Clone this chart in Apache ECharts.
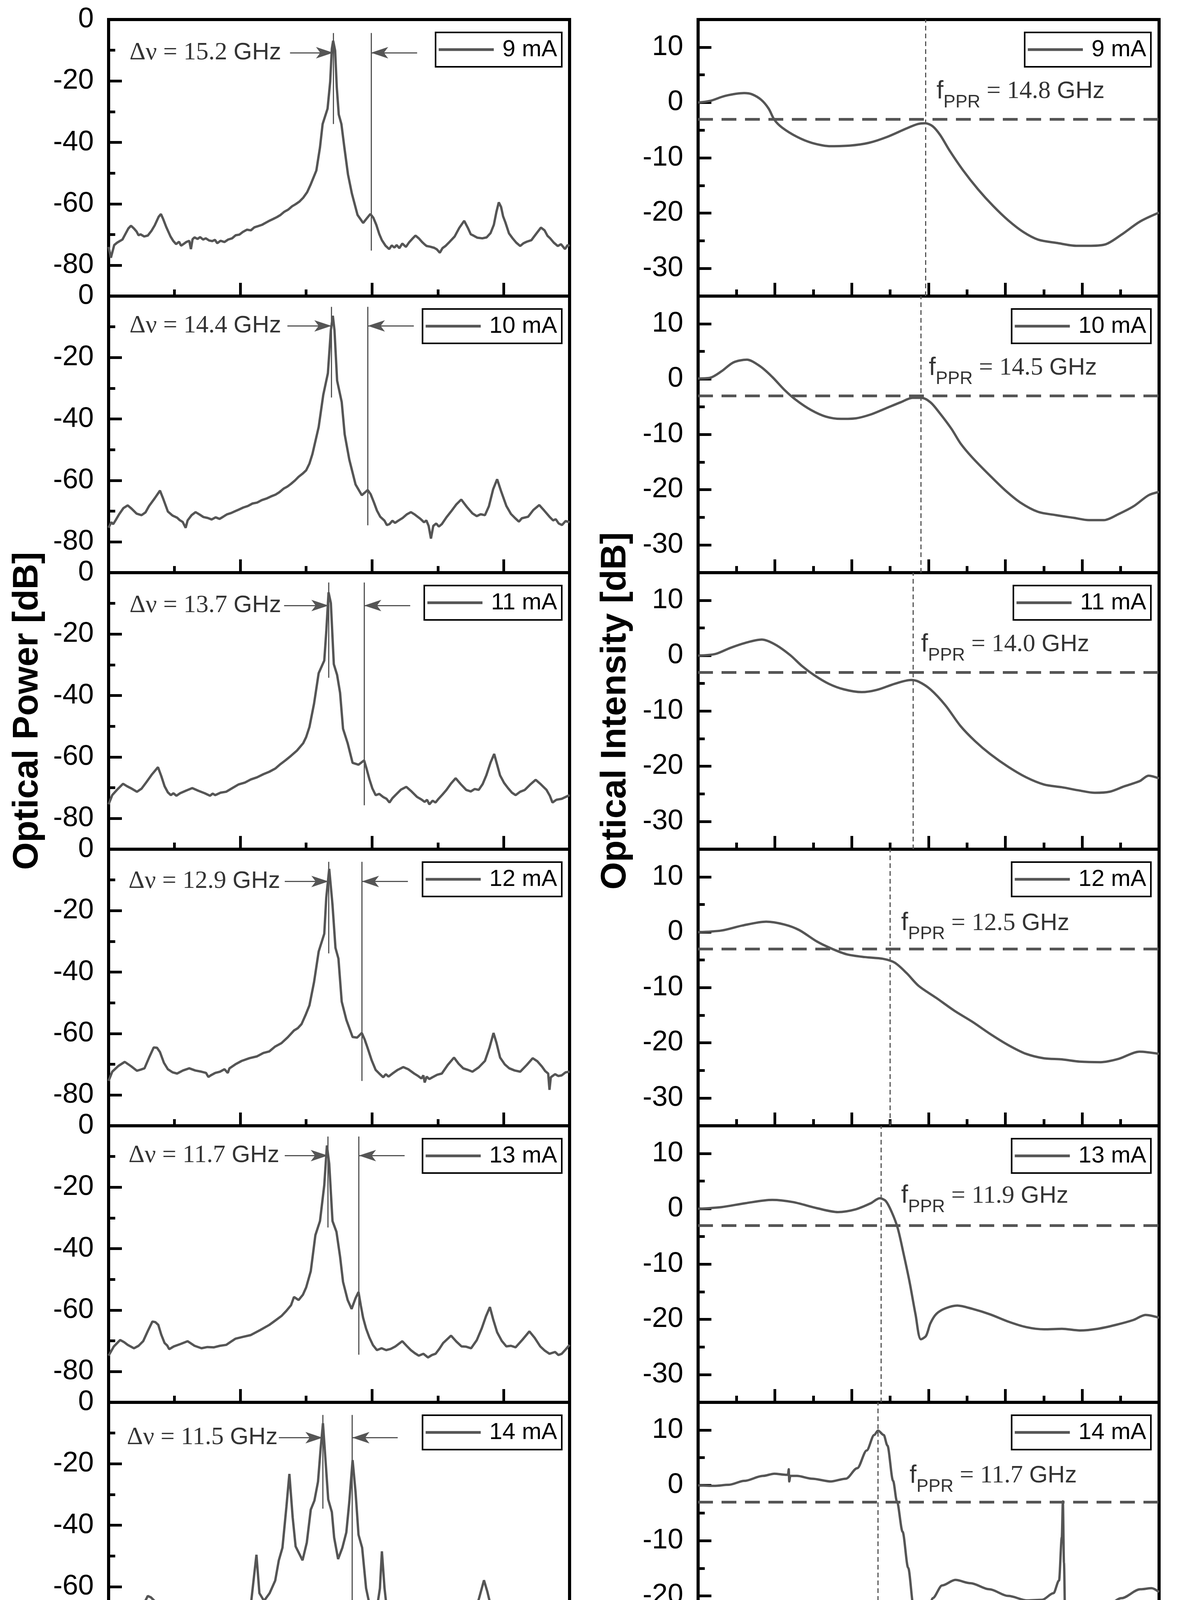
<!DOCTYPE html>
<html>
<head>
<meta charset="utf-8">
<title>Optical spectra and modulation response</title>
<script src="https://cdn.jsdelivr.net/npm/echarts@6/dist/echarts.min.js"></script>
<style>
  html, body { margin: 0; padding: 0; background: #fff; }
  #chart { width: 3018px; height: 4572px; }
</style>
</head>
<body>
<div id="chart"></div>
<script>
// ---- optical spectra, [wavelength nm, dB] ----
const spec9 = [[1551.200,-74.0],[1551.207,-77.5],[1551.217,-73.4],[1551.226,-72.6],[1551.234,-72.1],[1551.242,-71.6],[1551.250,-70.0],[1551.260,-68.0],[1551.268,-67.1],[1551.277,-68.0],[1551.285,-69.0],[1551.291,-70.2],[1551.297,-69.9],[1551.308,-70.6],[1551.319,-70.3],[1551.330,-68.8],[1551.340,-67.0],[1551.352,-64.2],[1551.359,-63.3],[1551.366,-65.0],[1551.375,-67.5],[1551.388,-70.6],[1551.396,-72.0],[1551.405,-73.1],[1551.414,-72.3],[1551.420,-73.6],[1551.427,-73.1],[1551.436,-72.4],[1551.445,-72.0],[1551.450,-74.7],[1551.455,-71.5],[1551.461,-70.9],[1551.470,-71.4],[1551.478,-70.8],[1551.487,-71.6],[1551.495,-71.2],[1551.505,-71.9],[1551.515,-72.1],[1551.523,-71.7],[1551.530,-72.8],[1551.540,-72.0],[1551.552,-72.4],[1551.563,-71.6],[1551.575,-71.2],[1551.586,-70.2],[1551.597,-70.0],[1551.608,-69.1],[1551.620,-68.4],[1551.632,-68.6],[1551.643,-67.6],[1551.655,-67.2],[1551.666,-66.8],[1551.678,-66.1],[1551.690,-65.4],[1551.700,-64.9],[1551.711,-64.3],[1551.722,-63.6],[1551.733,-62.6],[1551.745,-61.9],[1551.757,-60.8],[1551.768,-60.1],[1551.780,-59.2],[1551.791,-58.0],[1551.803,-56.2],[1551.814,-53.6],[1551.831,-49.1],[1551.842,-41.6],[1551.850,-34.0],[1551.865,-29.0],[1551.873,-20.2],[1551.878,-9.5],[1551.882,-6.9],[1551.888,-10.1],[1551.893,-22.1],[1551.899,-30.9],[1551.907,-34.0],[1551.916,-41.6],[1551.927,-50.4],[1551.939,-56.7],[1551.956,-63.6],[1551.973,-66.2],[1551.985,-64.6],[1551.995,-63.3],[1552.004,-64.5],[1552.013,-66.8],[1552.022,-69.8],[1552.030,-71.8],[1552.041,-73.6],[1552.052,-74.7],[1552.060,-73.5],[1552.068,-74.2],[1552.075,-73.4],[1552.083,-74.4],[1552.092,-72.9],[1552.103,-74.0],[1552.112,-72.6],[1552.122,-71.4],[1552.132,-70.3],[1552.142,-71.2],[1552.152,-72.4],[1552.160,-73.2],[1552.166,-73.7],[1552.176,-73.9],[1552.189,-74.3],[1552.197,-74.8],[1552.206,-75.9],[1552.214,-74.4],[1552.223,-73.7],[1552.236,-72.3],[1552.251,-70.6],[1552.265,-67.8],[1552.280,-65.5],[1552.292,-68.0],[1552.300,-69.9],[1552.308,-70.3],[1552.320,-71.0],[1552.335,-71.2],[1552.348,-70.9],[1552.360,-69.5],[1552.370,-66.8],[1552.378,-62.5],[1552.385,-59.5],[1552.392,-61.0],[1552.398,-64.0],[1552.405,-66.0],[1552.416,-69.6],[1552.427,-71.2],[1552.438,-72.6],[1552.450,-73.7],[1552.460,-72.8],[1552.470,-72.3],[1552.484,-71.8],[1552.498,-69.8],[1552.513,-67.7],[1552.524,-68.6],[1552.533,-70.4],[1552.541,-71.2],[1552.552,-72.6],[1552.564,-73.7],[1552.574,-73.1],[1552.586,-74.7],[1552.594,-73.4],[1552.600,-73.7]];
const spec10 = [[1551.200,-75.4],[1551.208,-73.6],[1551.214,-74.2],[1551.221,-73.0],[1551.232,-71.0],[1551.245,-69.0],[1551.258,-68.1],[1551.270,-69.2],[1551.285,-70.8],[1551.300,-71.3],[1551.312,-70.4],[1551.323,-68.3],[1551.340,-65.8],[1551.356,-63.3],[1551.366,-66.0],[1551.380,-70.1],[1551.394,-71.4],[1551.408,-72.1],[1551.416,-72.9],[1551.425,-73.5],[1551.434,-75.4],[1551.440,-73.0],[1551.452,-71.3],[1551.464,-70.3],[1551.475,-71.0],[1551.488,-71.9],[1551.501,-72.2],[1551.513,-72.7],[1551.525,-72.0],[1551.537,-72.5],[1551.548,-71.8],[1551.560,-71.0],[1551.572,-70.6],[1551.584,-70.0],[1551.595,-69.5],[1551.609,-68.8],[1551.623,-68.3],[1551.637,-67.5],[1551.651,-67.2],[1551.665,-66.4],[1551.679,-65.9],[1551.693,-65.2],[1551.707,-64.6],[1551.719,-63.8],[1551.731,-62.7],[1551.743,-62.0],[1551.754,-61.1],[1551.766,-60.0],[1551.777,-58.8],[1551.789,-57.8],[1551.800,-56.7],[1551.810,-54.5],[1551.819,-51.4],[1551.838,-42.6],[1551.852,-32.1],[1551.866,-25.1],[1551.875,-11.1],[1551.881,-6.4],[1551.886,-11.1],[1551.894,-27.5],[1551.908,-34.5],[1551.917,-45.0],[1551.931,-53.2],[1551.950,-61.3],[1551.969,-64.8],[1551.987,-63.1],[1551.996,-64.5],[1552.006,-67.2],[1552.015,-69.8],[1552.025,-71.8],[1552.038,-73.1],[1552.045,-74.5],[1552.053,-74.2],[1552.062,-73.1],[1552.070,-73.8],[1552.081,-73.0],[1552.093,-72.2],[1552.106,-71.0],[1552.118,-70.3],[1552.130,-71.1],[1552.146,-72.4],[1552.158,-73.6],[1552.165,-73.0],[1552.172,-74.8],[1552.179,-78.9],[1552.186,-74.8],[1552.195,-74.0],[1552.203,-75.0],[1552.212,-74.2],[1552.226,-72.0],[1552.240,-70.1],[1552.256,-67.8],[1552.271,-66.2],[1552.288,-68.6],[1552.305,-70.7],[1552.318,-71.6],[1552.330,-71.0],[1552.343,-71.3],[1552.355,-68.4],[1552.368,-62.8],[1552.380,-59.6],[1552.392,-63.5],[1552.408,-68.3],[1552.422,-70.9],[1552.436,-72.4],[1552.446,-73.4],[1552.455,-72.3],[1552.474,-71.8],[1552.490,-69.6],[1552.508,-68.0],[1552.523,-69.8],[1552.539,-71.8],[1552.550,-73.0],[1552.558,-72.6],[1552.567,-74.0],[1552.577,-74.5],[1552.588,-73.2],[1552.600,-73.6]];
const spec11 = [[1551.200,-75.4],[1551.211,-72.4],[1551.226,-70.6],[1551.244,-68.7],[1551.256,-69.5],[1551.267,-70.1],[1551.286,-71.3],[1551.300,-70.3],[1551.314,-68.3],[1551.332,-65.6],[1551.350,-63.3],[1551.360,-66.2],[1551.370,-69.5],[1551.380,-71.5],[1551.389,-72.4],[1551.397,-71.8],[1551.406,-72.6],[1551.417,-71.8],[1551.436,-70.9],[1551.454,-70.1],[1551.473,-71.0],[1551.492,-71.8],[1551.508,-72.6],[1551.516,-71.9],[1551.524,-72.4],[1551.540,-71.6],[1551.557,-71.3],[1551.576,-70.1],[1551.595,-68.9],[1551.614,-68.3],[1551.632,-67.3],[1551.651,-66.6],[1551.670,-65.6],[1551.688,-64.8],[1551.707,-63.7],[1551.722,-62.3],[1551.738,-61.0],[1551.754,-59.6],[1551.772,-57.9],[1551.791,-55.5],[1551.800,-53.5],[1551.810,-50.2],[1551.824,-42.6],[1551.838,-32.7],[1551.855,-28.6],[1551.861,-19.3],[1551.868,-6.4],[1551.875,-9.9],[1551.884,-29.8],[1551.894,-33.3],[1551.903,-39.1],[1551.912,-50.8],[1551.926,-55.5],[1551.941,-61.9],[1551.959,-62.5],[1551.976,-61.1],[1551.984,-64.0],[1551.992,-67.2],[1552.001,-70.2],[1552.011,-72.4],[1552.022,-72.0],[1552.034,-73.0],[1552.044,-73.6],[1552.053,-74.8],[1552.062,-73.4],[1552.071,-72.4],[1552.088,-70.6],[1552.104,-69.7],[1552.120,-71.2],[1552.137,-73.0],[1552.150,-73.8],[1552.160,-74.6],[1552.167,-73.9],[1552.174,-75.4],[1552.184,-74.2],[1552.193,-74.8],[1552.202,-73.6],[1552.214,-72.2],[1552.226,-70.7],[1552.240,-68.6],[1552.254,-66.9],[1552.270,-68.9],[1552.286,-70.7],[1552.300,-71.2],[1552.312,-70.4],[1552.324,-70.7],[1552.336,-68.8],[1552.347,-66.0],[1552.360,-61.8],[1552.371,-59.0],[1552.380,-62.5],[1552.389,-66.0],[1552.401,-68.4],[1552.413,-70.1],[1552.425,-71.6],[1552.436,-72.4],[1552.450,-71.3],[1552.464,-70.7],[1552.480,-69.0],[1552.497,-67.4],[1552.513,-68.9],[1552.530,-70.7],[1552.540,-72.6],[1552.548,-74.8],[1552.560,-73.9],[1552.576,-73.6],[1552.588,-73.0],[1552.600,-72.4]];
const spec12 = [[1551.200,-75.4],[1551.211,-72.4],[1551.230,-70.5],[1551.249,-69.2],[1551.268,-70.6],[1551.286,-72.1],[1551.298,-71.7],[1551.309,-71.3],[1551.323,-67.8],[1551.337,-64.5],[1551.347,-64.6],[1551.356,-66.0],[1551.368,-69.5],[1551.380,-71.6],[1551.394,-72.6],[1551.408,-73.0],[1551.426,-72.0],[1551.445,-71.3],[1551.463,-72.0],[1551.482,-72.4],[1551.496,-72.8],[1551.503,-74.1],[1551.510,-73.6],[1551.524,-72.8],[1551.538,-72.4],[1551.552,-71.6],[1551.562,-72.8],[1551.567,-71.3],[1551.585,-70.0],[1551.604,-68.9],[1551.628,-68.0],[1551.651,-67.4],[1551.670,-66.3],[1551.688,-65.8],[1551.706,-64.2],[1551.725,-63.1],[1551.744,-61.2],[1551.763,-59.0],[1551.775,-58.2],[1551.786,-56.9],[1551.798,-54.0],[1551.810,-50.8],[1551.824,-43.2],[1551.838,-33.3],[1551.855,-27.5],[1551.861,-15.8],[1551.870,-6.4],[1551.880,-18.1],[1551.889,-32.1],[1551.898,-35.6],[1551.908,-49.6],[1551.922,-55.5],[1551.941,-61.1],[1551.955,-61.3],[1551.969,-59.8],[1551.978,-62.0],[1551.987,-64.8],[1551.999,-68.7],[1552.011,-71.8],[1552.022,-73.0],[1552.034,-74.2],[1552.042,-73.2],[1552.050,-74.0],[1552.062,-73.0],[1552.078,-71.8],[1552.095,-70.9],[1552.110,-71.6],[1552.128,-73.0],[1552.140,-73.8],[1552.150,-74.6],[1552.156,-73.6],[1552.160,-75.9],[1552.166,-74.0],[1552.174,-74.8],[1552.184,-74.2],[1552.198,-73.4],[1552.212,-73.0],[1552.230,-70.2],[1552.249,-67.8],[1552.263,-69.8],[1552.277,-71.3],[1552.291,-71.8],[1552.305,-72.4],[1552.324,-71.0],[1552.343,-68.9],[1552.357,-64.5],[1552.369,-59.8],[1552.378,-63.0],[1552.389,-67.8],[1552.403,-70.0],[1552.417,-71.3],[1552.433,-72.0],[1552.450,-72.4],[1552.470,-70.2],[1552.488,-68.0],[1552.502,-69.0],[1552.516,-70.7],[1552.526,-72.2],[1552.535,-73.0],[1552.539,-78.3],[1552.543,-74.2],[1552.556,-73.2],[1552.566,-73.8],[1552.576,-73.6],[1552.588,-72.6],[1552.600,-72.4]];
const spec13 = [[1551.200,-74.8],[1551.216,-71.8],[1551.235,-69.7],[1551.247,-70.4],[1551.258,-71.3],[1551.277,-72.4],[1551.291,-71.6],[1551.305,-70.1],[1551.319,-66.8],[1551.333,-63.7],[1551.342,-63.9],[1551.351,-64.8],[1551.360,-68.0],[1551.370,-70.7],[1551.378,-71.5],[1551.384,-72.7],[1551.398,-71.8],[1551.419,-71.0],[1551.440,-70.1],[1551.461,-71.6],[1551.482,-72.4],[1551.500,-72.0],[1551.520,-72.1],[1551.538,-71.6],[1551.557,-71.3],[1551.571,-70.3],[1551.585,-69.3],[1551.608,-68.7],[1551.632,-68.1],[1551.660,-66.5],[1551.688,-64.8],[1551.706,-63.4],[1551.725,-61.9],[1551.740,-60.2],[1551.754,-58.4],[1551.763,-55.7],[1551.777,-56.7],[1551.790,-55.0],[1551.800,-52.6],[1551.814,-47.3],[1551.828,-35.6],[1551.842,-31.0],[1551.855,-19.3],[1551.863,-6.4],[1551.870,-12.3],[1551.880,-31.0],[1551.892,-34.5],[1551.903,-42.6],[1551.912,-50.8],[1551.926,-56.7],[1551.938,-59.6],[1551.950,-56.1],[1551.959,-54.1],[1551.966,-58.5],[1551.973,-62.5],[1551.982,-66.0],[1551.992,-68.9],[1552.003,-71.4],[1552.015,-73.0],[1552.029,-72.4],[1552.043,-73.0],[1552.057,-72.6],[1552.071,-71.8],[1552.092,-70.1],[1552.105,-71.6],[1552.118,-73.0],[1552.130,-74.0],[1552.142,-74.8],[1552.156,-74.2],[1552.170,-75.4],[1552.182,-74.6],[1552.193,-74.2],[1552.205,-72.5],[1552.216,-70.7],[1552.240,-68.3],[1552.256,-70.2],[1552.272,-71.8],[1552.286,-71.9],[1552.301,-72.4],[1552.318,-69.8],[1552.333,-66.0],[1552.346,-62.0],[1552.358,-59.0],[1552.368,-63.0],[1552.380,-67.2],[1552.394,-70.0],[1552.408,-71.8],[1552.422,-71.6],[1552.436,-72.1],[1552.457,-69.6],[1552.478,-66.9],[1552.494,-69.0],[1552.511,-71.8],[1552.525,-73.2],[1552.539,-74.2],[1552.556,-73.6],[1552.566,-74.6],[1552.576,-74.2],[1552.588,-72.8],[1552.600,-71.3]];
const spec14 = [[1551.200,-72.1],[1551.214,-69.8],[1551.228,-68.3],[1551.245,-70.2],[1551.256,-71.0],[1551.263,-71.7],[1551.270,-74.1],[1551.280,-71.2],[1551.291,-69.2],[1551.305,-66.0],[1551.319,-63.0],[1551.329,-63.5],[1551.339,-64.6],[1551.349,-68.0],[1551.359,-70.4],[1551.370,-71.2],[1551.382,-71.7],[1551.402,-70.8],[1551.422,-69.2],[1551.434,-70.2],[1551.444,-71.5],[1551.455,-72.4],[1551.467,-73.7],[1551.476,-72.6],[1551.487,-72.9],[1551.497,-72.2],[1551.507,-71.7],[1551.524,-71.0],[1551.541,-70.4],[1551.549,-67.5],[1551.558,-69.2],[1551.570,-69.0],[1551.584,-68.5],[1551.598,-67.9],[1551.615,-67.2],[1551.632,-65.9],[1551.641,-57.2],[1551.649,-49.6],[1551.658,-62.1],[1551.672,-64.6],[1551.689,-62.1],[1551.706,-58.0],[1551.717,-51.4],[1551.728,-47.3],[1551.740,-34.0],[1551.749,-23.3],[1551.759,-37.4],[1551.768,-46.9],[1551.789,-51.4],[1551.802,-45.6],[1551.814,-34.9],[1551.825,-32.0],[1551.836,-25.8],[1551.844,-15.0],[1551.851,-6.8],[1551.859,-19.2],[1551.867,-31.6],[1551.878,-35.7],[1551.885,-44.0],[1551.897,-51.0],[1551.910,-47.3],[1551.922,-42.3],[1551.931,-32.4],[1551.941,-18.8],[1551.950,-29.1],[1551.959,-43.1],[1551.970,-47.3],[1551.982,-60.5],[1551.995,-67.1],[1552.013,-68.3],[1552.024,-60.5],[1552.030,-48.5],[1552.038,-60.5],[1552.047,-69.2],[1552.061,-70.6],[1552.075,-70.0],[1552.087,-71.4],[1552.098,-72.1],[1552.110,-71.2],[1552.120,-71.7],[1552.126,-73.6],[1552.132,-75.0],[1552.140,-74.4],[1552.149,-76.2],[1552.163,-74.6],[1552.177,-73.7],[1552.192,-71.3],[1552.206,-69.2],[1552.220,-67.5],[1552.232,-68.8],[1552.245,-70.0],[1552.262,-71.6],[1552.280,-72.5],[1552.294,-71.6],[1552.308,-70.0],[1552.325,-63.8],[1552.340,-57.9],[1552.350,-61.5],[1552.359,-65.5],[1552.374,-68.9],[1552.388,-70.8],[1552.402,-71.5],[1552.416,-71.7],[1552.436,-69.0],[1552.456,-66.7],[1552.470,-67.6],[1552.484,-69.2],[1552.496,-70.6],[1552.507,-72.1],[1552.518,-73.6],[1552.530,-75.8],[1552.540,-74.0],[1552.550,-73.3],[1552.558,-74.6],[1552.564,-75.3],[1552.575,-72.6],[1552.586,-70.8],[1552.600,-68.3]];

// ---- modulation response, [frequency GHz, dB] ----
const resp9 = [[0,0],[0.79,0.3],[1.77,1.2],[3.0,1.7],[3.49,1.5],[4.1,0.5],[4.59,-1.1],[4.96,-3.1],[5.45,-4.5],[6.43,-6.2],[7.41,-7.3],[8.64,-7.9],[9.87,-7.8],[11.1,-7.3],[12.32,-6.2],[13.55,-4.7],[14.29,-3.9],[14.78,-3.75],[15.27,-4.3],[15.76,-5.9],[16.37,-8.7],[17.23,-12.2],[18.22,-15.7],[19.2,-18.7],[20.18,-21.3],[21.16,-23.4],[22.14,-24.8],[23.37,-25.4],[24.6,-25.9],[25.58,-25.9],[26.56,-25.6],[27.55,-23.9],[28.77,-21.5],[30,-19.9]];
const resp10 = [[0,0.1],[0.74,0.2],[1.52,1.4],[2.29,3.0],[3.17,3.5],[4.04,2.3],[4.82,0.4],[5.6,-1.9],[6.38,-3.8],[7.35,-5.6],[8.32,-6.8],[9.29,-7.2],[10.26,-7.1],[11.24,-6.4],[12.21,-5.3],[13.18,-4.2],[13.96,-3.4],[14.54,-3.4],[15.12,-4.2],[15.71,-6.1],[16.49,-9.0],[17.07,-11.6],[17.85,-14.2],[19.01,-17.5],[19.98,-20.1],[20.96,-22.3],[22.12,-24.0],[23.29,-24.6],[24.46,-25.1],[25.43,-25.5],[26.4,-25.5],[27.37,-24.4],[28.34,-23.0],[29.32,-21.0],[30,-20.4]];
const resp11 = [[0,0],[1.13,0.3],[2.1,1.4],[3.07,2.3],[4.14,2.9],[5.02,2.0],[5.99,0.1],[6.77,-1.9],[7.54,-3.5],[8.51,-5.1],[9.49,-6.1],[10.65,-6.6],[11.63,-6.2],[12.79,-5.1],[13.86,-4.4],[14.35,-4.7],[15.12,-6.1],[16.1,-9.0],[17.07,-12.7],[18.04,-15.5],[19.01,-17.8],[20.18,-20.1],[21.35,-22.0],[22.51,-23.3],[23.68,-23.8],[24.84,-24.4],[25.82,-24.8],[26.79,-24.6],[27.76,-23.6],[28.73,-22.7],[29.32,-21.7],[30,-22.2]];
const resp12 = [[0,0],[1.52,0.3],[2.88,1.2],[4.43,1.9],[5.6,1.4],[6.57,0.4],[7.74,-1.7],[8.71,-3.0],[9.68,-4.0],[10.85,-4.5],[12.01,-4.8],[12.79,-5.5],[13.57,-7.4],[14.35,-9.7],[15.51,-11.9],[16.68,-14.2],[17.85,-16.2],[19.01,-18.4],[20.18,-20.4],[21.35,-22.0],[22.51,-22.8],[23.68,-23.0],[24.84,-23.4],[26.2,-23.5],[27.37,-22.9],[28.73,-21.6],[30,-22.0]];
const resp13 = [[0,0],[1.52,0.3],[3.07,1.0],[4.82,1.6],[6.18,1.2],[7.74,0.1],[9.1,-0.6],[10.26,-0.1],[11.24,1.0],[11.82,1.9],[12.21,1.4],[12.6,-0.6],[12.99,-3.5],[13.37,-8.1],[13.76,-13.2],[14.15,-19.1],[14.5,-23.6],[14.83,-23.0],[15.12,-20.7],[15.51,-19.0],[16.1,-18.0],[16.87,-17.5],[17.85,-18.1],[19.01,-19.1],[20.18,-20.4],[21.35,-21.4],[22.51,-21.8],[23.68,-21.7],[24.84,-22.0],[26.01,-21.7],[27.18,-21.0],[28.34,-20.1],[29.12,-19.2],[30,-19.7]];
const resp14 = [[0,0],[1.03,-0.1],[2.01,0.1],[3.0,0.8],[4.22,1.7],[4.96,2.1],[5.7,1.9],[5.85,1.9],[5.9,2.9],[5.93,0.7],[6.0,1.7],[6.43,1.7],[7.41,1.2],[8.64,0.7],[9.62,1.2],[10.36,3.1],[10.97,6.3],[11.46,9.1],[11.71,9.9],[12.08,9.1],[12.32,7.2],[12.69,0.8],[12.94,-2.9],[13.31,-8.4],[13.67,-14.9],[14.04,-22.3],[14.29,-29.2],[14.46,-33.6],[14.66,-28.3],[14.9,-24.1],[15.27,-20.4],[15.88,-18.1],[16.74,-17.1],[17.73,-17.7],[18.95,-18.8],[20.18,-20.0],[21.41,-20.8],[22.39,-20.7],[23.13,-19.5],[23.49,-17.2],[23.67,-9.4],[23.74,-2.9],[23.81,-14.0],[23.91,-27.8],[24.11,-25.8],[24.6,-23.9],[25.58,-23.0],[26.56,-21.8],[27.55,-20.4],[28.77,-18.8],[29.51,-18.6],[30,-19.3]];

const currents = ['9 mA', '10 mA', '11 mA', '12 mA', '13 mA', '14 mA'];
const spectra = [spec9, spec10, spec11, spec12, spec13, spec14];
const responses = [resp9, resp10, resp11, resp12, resp13, resp14];

// mode spacing markers (left column)
const dnuLabels = ['15.2', '14.4', '13.7', '12.9', '11.7', '11.5'];
const mainMode = [1551.882, 1551.877, 1551.868, 1551.868, 1551.866, 1551.850];
const mainModeEnd = [-34.0, -33.0, -34.2, -33.9, -33.1, -34.6];
const sideMode = [1551.997, 1551.987, 1551.976, 1551.969, 1551.960, 1551.940];
const sideModeEnd = [-75.2, -74.6, -75.7, -75.4, -74.5, -75.8];
const markerTop = [-4.4, -3.5, -3.2, -4.1, -3.5, -4.1];
const arrowLevel = [-10.8, -9.7, -10.7, -10.5, -9.7, -11.5];
const arrowTailL = [1551.751, 1551.743, 1551.733, 1551.735, 1551.735, 1551.717];
const arrowTailR = [1552.137, 1552.127, 1552.116, 1552.109, 1552.099, 1552.078];
const dnuTextX = [1551.263, 1551.263, 1551.263, 1551.260, 1551.260, 1551.255];

// photon-photon resonance markers (right column)
const fpprLabels = ['14.8', '14.5', '14.0', '12.5', '11.9', '11.7'];
const fppr = [14.8, 14.5, 14.0, 12.5, 11.9, 11.7];
const fpprTextX = [15.5, 15.0, 14.5, 13.2, 13.2, 13.75];
const fpprTextY = [2.0, 2.0, 2.0, 1.6, 2.3, 1.7];
const cutoffLevel = -3;

// axis ticks
const wlMajor = [1551.2, 1551.6, 1552.0, 1552.4];
const wlMinor = [1551.4, 1551.8, 1552.2];
const powMajor = [0, -20, -40, -60, -80];
const powMinor = [-10, -30, -50, -70];
const fMajor = [0, 5, 10, 15, 20, 25, 30];
const fMinor = [2.5, 7.5, 12.5, 17.5, 22.5, 27.5];
const intMajor = [10, 0, -10, -20, -30];
const intMinor = [5, -5, -15, -25];

const SANS = '"Liberation Sans", Arial, sans-serif';
const SERIF = '"Liberation Serif", "Times New Roman", serif';
const INK = '#000';
const TRACE = '#555555';

const panelTop = 50, panelH = 708, panelW = 1180;
const colLeft = [278, 1787];
const legendRight = [1580, 72];

const grids = [], xAxes = [], yAxes = [], series = [], legends = [];

const titleStyle = { fontSize: 91, fontWeight: 'bold', color: INK, fontFamily: SANS };
const tickStyle = { color: INK, width: 7 };

for (let c = 0; c < 2; c++) {
    const isSpec = c === 0;
    for (let i = 0; i < 6; i++) {
        const g = grids.length;
        grids.push({
            left: colLeft[c], top: panelTop + i * panelH, width: panelW, height: panelH,
            show: true, borderColor: INK, borderWidth: 8, backgroundColor: 'transparent'
        });

        const last = i === 5;
        const xMin = isSpec ? 1551.2 : 0, xMax = isSpec ? 1552.6 : 30;
        const yMin = isSpec ? -90 : -35, yMax = isSpec ? 0 : 15;

        const xi = xAxes.length;
        xAxes.push({
            type: 'value', gridIndex: g, position: 'bottom', min: xMin, max: xMax,
            axisLine: { onZero: false, lineStyle: { color: INK, width: 8 } },
            axisTick: { inside: true, length: 34, lineStyle: tickStyle, customValues: isSpec ? wlMajor : fMajor },
            axisLabel: {
                show: last, customValues: isSpec ? wlMajor : fMajor, margin: 46,
                fontSize: 72, color: INK, fontFamily: SANS,
                formatter: v => isSpec ? v.toFixed(1) : String(v)
            },
            splitLine: { show: false },
            name: last ? (isSpec ? 'Wavelength [nm]' : 'Frequency [GHz]') : '',
            nameLocation: 'middle', nameGap: 180, nameTextStyle: titleStyle
        });
        xAxes.push({
            type: 'value', gridIndex: g, position: 'bottom', min: xMin, max: xMax,
            axisLine: { show: false, onZero: false },
            axisTick: { inside: true, length: 17, lineStyle: tickStyle, customValues: isSpec ? wlMinor : fMinor },
            axisLabel: { show: false }, splitLine: { show: false }
        });

        const yi = yAxes.length;
        yAxes.push({
            type: 'value', gridIndex: g, position: 'left', min: yMin, max: yMax,
            axisLine: { show: true, onZero: false, lineStyle: { color: INK, width: 8 } },
            axisTick: { inside: true, length: 34, lineStyle: tickStyle, customValues: isSpec ? powMajor : intMajor },
            axisLabel: {
                customValues: isSpec ? powMajor : intMajor, margin: 38,
                fontSize: 72, color: INK, fontFamily: SANS
            },
            splitLine: { show: false },
            name: i === 2 ? (isSpec ? 'Optical Power [dB]' : 'Optical Intensity [dB]') : '',
            nameLocation: 'middle', nameGap: isSpec ? 162 : 166, nameTextStyle: titleStyle
        });
        yAxes.push({
            type: 'value', gridIndex: g, position: 'left', min: yMin, max: yMax,
            axisLine: { show: false, onZero: false },
            axisTick: { inside: true, length: 17, lineStyle: tickStyle, customValues: isSpec ? powMinor : intMinor },
            axisLabel: { show: false }, splitLine: { show: false }
        });

        const trace = {
            type: 'line', name: currents[i], xAxisIndex: xi, yAxisIndex: yi,
            data: isSpec ? spectra[i] : responses[i],
            symbol: 'none', showSymbol: false, silent: true, animation: false,
            smooth: isSpec ? false : 0.3,
            // the 14 mA response has sharp spikes, keep its smoothing from looping back
            smoothMonotone: (!isSpec && i === 5) ? 'x' : null,
            lineStyle: { color: TRACE, width: 6 }, itemStyle: { color: TRACE }
        };

        if (isSpec) {
            const head = { symbol: 'arrow', symbolSize: [22, 44] };
            trace.markLine = {
                silent: true, animation: false, symbol: 'none',
                label: { show: false },
                lineStyle: { color: TRACE, width: 3, type: 'solid' },
                data: [
                    [{ coord: [mainMode[i], markerTop[i]] }, { coord: [mainMode[i], mainModeEnd[i]] }],
                    [{ coord: [sideMode[i], markerTop[i]] }, { coord: [sideMode[i], sideModeEnd[i]] }],
                    [{ coord: [arrowTailL[i], arrowLevel[i]], symbol: 'none' },
                     Object.assign({ coord: [mainMode[i], arrowLevel[i]] }, head)],
                    [{ coord: [arrowTailR[i], arrowLevel[i]], symbol: 'none' },
                     Object.assign({ coord: [sideMode[i], arrowLevel[i]] }, head)]
                ]
            };
        } else {
            trace.markLine = {
                silent: true, animation: false, symbol: 'none',
                label: { show: false },
                data: [
                    { yAxis: cutoffLevel, lineStyle: { color: TRACE, width: 7, type: [38, 22] } },
                    { xAxis: fppr[i], lineStyle: { color: TRACE, width: 3, type: [12, 8] } }
                ]
            };
        }
        series.push(trace);

        // annotation text
        const text = isSpec
            ? '{s|\u0394\u03bd = ' + dnuLabels[i] + ' }{g|GHz}'
            : '{f|f}{sub|PPR}{s| = ' + fpprLabels[i] + ' }{g|GHz}';
        series.push({
            type: 'scatter', xAxisIndex: xi, yAxisIndex: yi, silent: true, animation: false,
            data: [isSpec ? [dnuTextX[i], arrowLevel[i]] : [fpprTextX[i], fpprTextY[i]]],
            symbolSize: 1, itemStyle: { color: 'rgba(0,0,0,0)' },
            label: {
                show: true, position: 'right', distance: 0, formatter: text,
                rich: {
                    s: { fontFamily: SERIF, fontSize: 64, lineHeight: 64, color: INK },
                    g: { fontFamily: SANS, fontSize: 61, lineHeight: 64, color: INK },
                    f: { fontFamily: SANS, fontSize: 64, lineHeight: 64, color: INK },
                    sub: { fontFamily: SANS, fontSize: 46, lineHeight: 46, padding: [56, 0, 0, 0], color: INK }
                }
            }
        });

        legends.push({
            data: [currents[i]], selectedMode: false,
            right: legendRight[c], top: panelTop + i * panelH + 33,
            orient: 'horizontal', padding: [14, 12, 14, 8],
            borderColor: INK, borderWidth: 4, backgroundColor: '#fff',
            icon: 'rect', itemWidth: 141, itemHeight: 7,
            itemStyle: { color: TRACE },
            textStyle: { fontSize: 60, lineHeight: 60, color: INK, fontFamily: SANS, padding: [0, 0, 0, 17] }
        });
    }
}

const chart = echarts.init(document.getElementById('chart'));
chart.setOption({
    backgroundColor: '#fff',
    animation: false,
    grid: grids,
    xAxis: xAxes,
    yAxis: yAxes,
    legend: legends,
    series: series
});
</script>
</body>
</html>
